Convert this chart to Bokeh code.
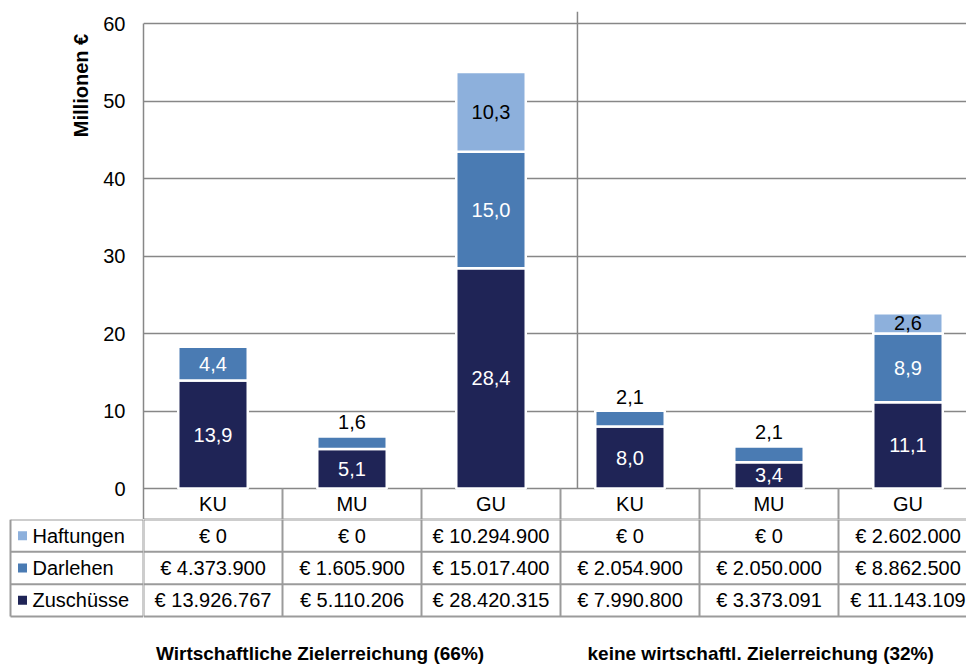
import math
from bokeh.plotting import figure
from bokeh.layouts import column, row
from bokeh.models import Range1d, FixedTicker, ColumnDataSource
from bokeh.core.properties import value
from bokeh.embed import file_html
from bokeh.resources import INLINE

# ---------------- data ----------------
categories = ["KU", "MU", "GU", "KU", "MU", "GU"]
group_titles = ["Wirtschaftliche Zielerreichung (66%)",
                "keine wirtschaftl. Zielerreichung (32%)"]
series_names = ["Haftungen", "Darlehen", "Zuschüsse"]
zuschuesse = [13926767, 5110206, 28420315, 7990800, 3373091, 11143109]
darlehen = [4373900, 1605900, 15017400, 2054900, 2050000, 8862500]
haftungen = [0, 0, 10294900, 0, 0, 2602000]
y_ticks = [0, 10, 20, 30, 40, 50, 60]
y_title = "Millionen €"

# ---------------- style ----------------
FONT = "Liberation Sans"
C_ZUS = "#1F2456"
C_DAR = "#4A7BB3"
C_HAF = "#8DB0DC"
series_colors = [C_HAF, C_DAR, C_ZUS]
GRID = "#878787"
TABLE = "#9B9B9B"
FS = "20px"

# ---------------- layout (px) ----------------
W = 966
H = 669
STRIP = 100          # strip holding the y title
AXIS_W = 43          # y-axis tick label area
FRAME_L = STRIP + AXIS_W
CAT_PX = 139.0
PX_PER_UNIT = 7.75
ZERO_Y = 488
TOP_Y = 11
A_H = 519
B_H = H - A_H
ROW_PX = 32.33

n = len(categories)
x_end = (W - FRAME_L) / CAT_PX
y_top = 60 + (ZERO_Y - 60 * PX_PER_UNIT - TOP_Y) / PX_PER_UNIT
y_bot = -(A_H - ZERO_Y) / PX_PER_UNIT


def mio(v):
    return v / 1e6


def fmt_mio(v):
    tenths = (v + 50000) // 100000          # round half up, like the spreadsheet
    return f"{tenths // 10},{tenths % 10}"


def fmt_eur(v):
    return "€ " + f"{v:,}".replace(",", ".")


xs = [i + 0.5 for i in range(n)]
z = [mio(v) for v in zuschuesse]
d = [mio(v) for v in darlehen]
h = [mio(v) for v in haftungen]


def bare(fig):
    fig.outline_line_color = None
    fig.background_fill_color = "white"
    fig.border_fill_color = "white"
    fig.grid.grid_line_color = None


# ================= y-title strip =================
pt = figure(width=STRIP, height=A_H, x_range=Range1d(0, STRIP), y_range=Range1d(y_bot, y_top),
            output_backend="svg", toolbar_location=None, x_axis_location=None, y_axis_location=None,
            min_border=0, title=None)
bare(pt)
pt.text(x=[80], y=[(ZERO_Y - 85) / PX_PER_UNIT], text=[y_title], angle=math.pi / 2,
        text_font=value(FONT), text_font_size=value("20px"), text_font_style="bold",
        text_align="center", text_baseline="middle", text_color="black")

# ================= chart figure =================
pa = figure(width=W - STRIP, height=A_H, x_range=Range1d(0, x_end), y_range=Range1d(y_bot, y_top),
            output_backend="svg", toolbar_location=None, x_axis_location=None,
            min_border_left=AXIS_W, min_border_right=0, min_border_top=TOP_Y, min_border_bottom=0,
            title=None)
bare(pa)
pa.ygrid.ticker = FixedTicker(ticks=y_ticks)
pa.ygrid.grid_line_color = GRID
pa.ygrid.grid_line_width = 1.5

ax = pa.yaxis[0]
ax.ticker = FixedTicker(ticks=y_ticks)
ax.bounds = (y_bot, 60)
ax.axis_line_color = GRID
ax.axis_line_width = 1.5
ax.major_tick_line_color = None
ax.minor_tick_line_color = None
ax.major_tick_in = 0
ax.major_tick_out = 0
ax.major_label_text_font = FONT
ax.major_label_text_font_size = FS
ax.major_label_text_color = "#000000"
ax.major_label_standoff = 18

# group separator
pa.segment(x0=[3 + 0.122], y0=[0], x1=[3 + 0.122], y1=[y_top], line_color=GRID, line_width=1.5)

# stacked bars
src_z = ColumnDataSource(dict(x=xs, bottom=[0] * n, top=z))
pa.vbar(x="x", bottom="bottom", top="top", width=0.5, source=src_z,
        fill_color=C_ZUS, line_color="white", line_width=2.5)
src_d = ColumnDataSource(dict(x=xs, bottom=z, top=[a + b for a, b in zip(z, d)]))
pa.vbar(x="x", bottom="bottom", top="top", width=0.5, source=src_d,
        fill_color=C_DAR, line_color="white", line_width=2.5)
hi = [i for i in range(n) if haftungen[i] > 0]
src_h = ColumnDataSource(dict(x=[xs[i] for i in hi], bottom=[z[i] + d[i] for i in hi],
                              top=[z[i] + d[i] + h[i] for i in hi]))
pa.vbar(x="x", bottom="bottom", top="top", width=0.5, source=src_h,
        fill_color=C_HAF, line_color="white", line_width=2.5)

# data labels
lab_x, lab_y, lab_t, lab_c = [], [], [], []
for i in range(n):
    lab_x.append(xs[i]); lab_y.append(z[i] / 2); lab_t.append(fmt_mio(zuschuesse[i])); lab_c.append("white")
    if d[i] >= 3:
        lab_x.append(xs[i]); lab_y.append(z[i] + d[i] / 2); lab_t.append(fmt_mio(darlehen[i])); lab_c.append("white")
    else:
        lab_x.append(xs[i]); lab_y.append(z[i] + d[i] + 14 / PX_PER_UNIT); lab_t.append(fmt_mio(darlehen[i])); lab_c.append("black")
    if haftungen[i] > 0:
        lab_x.append(xs[i]); lab_y.append(z[i] + d[i] + h[i] / 2); lab_t.append(fmt_mio(haftungen[i])); lab_c.append("black")
pa.text(x="x", y="y", text="t", text_color="c",
        source=ColumnDataSource(dict(x=lab_x, y=lab_y, t=lab_t, c=lab_c)),
        text_font=value(FONT), text_font_size=value(FS), text_align="center", text_baseline="middle")

# table header row (category names)
hdr_y = -15 / PX_PER_UNIT
pa.text(x=xs, y=[hdr_y] * n, text=categories, text_font=value(FONT), text_font_size=value(FS),
        text_align="center", text_baseline="middle", text_color="black")
pa.segment(x0=list(range(1, n + 1)), y0=[0] * n, x1=list(range(1, n + 1)), y1=[y_bot] * n,
           line_color=TABLE, line_width=2)
pa.segment(x0=[0], y0=[y_bot], x1=[n], y1=[y_bot], line_color=TABLE, line_width=2)

# ================= table figures =================
rows_h = B_H / ROW_PX
nrows = len(series_names)
row_vals = [haftungen, darlehen, zuschuesse]

pb = figure(width=W - FRAME_L, height=B_H, x_range=Range1d(0, x_end), y_range=Range1d(rows_h, 0),
            output_backend="svg", toolbar_location=None, x_axis_location=None, y_axis_location=None,
            min_border=0, title=None)
bare(pb)
pb.segment(x0=[0] * (nrows + 1), y0=list(range(nrows + 1)), x1=[n] * (nrows + 1), y1=list(range(nrows + 1)),
           line_color=TABLE, line_width=2)
pb.segment(x0=list(range(n + 1)), y0=[0] * (n + 1), x1=list(range(n + 1)), y1=[nrows] * (n + 1),
           line_color=TABLE, line_width=2)
tx, ty, tt = [], [], []
for r, vals in enumerate(row_vals):
    for i in range(n):
        tx.append(xs[i]); ty.append(r + 0.5); tt.append(fmt_eur(vals[i]))
pb.text(x=tx, y=ty, text=tt, text_font=value(FONT), text_font_size=value(FS),
        text_align="center", text_baseline="middle", text_color="black")
title_y = (653 - A_H) / ROW_PX
pb.text(x=[1.5 - 0.23, 4.5 - 0.06], y=[title_y] * 2, text=group_titles, text_font=value(FONT),
        text_font_size=value("19px"), text_font_style="bold", text_align="center",
        text_baseline="middle", text_color="black")

pl = figure(width=FRAME_L, height=B_H, x_range=Range1d(0, FRAME_L), y_range=Range1d(rows_h, 0),
            output_backend="svg", toolbar_location=None, x_axis_location=None, y_axis_location=None,
            min_border=0, title=None)
bare(pl)
pl.segment(x0=[10] * (nrows + 1), y0=list(range(nrows + 1)), x1=[FRAME_L] * (nrows + 1), y1=list(range(nrows + 1)),
           line_color=TABLE, line_width=2)
pl.segment(x0=[10, FRAME_L], y0=[0, 0], x1=[10, FRAME_L], y1=[nrows, nrows], line_color=TABLE, line_width=2)
ry = [r + 0.5 for r in range(nrows)]
pl.scatter(x=[22] * nrows, y=ry, marker="square", size=9, fill_color=series_colors, line_color=None)
pl.text(x=[32] * nrows, y=ry, text=series_names, text_font=value(FONT), text_font_size=value(FS),
        text_align="left", text_baseline="middle", text_color="black")

layout = column(row(pt, pa), row(pl, pb))
open("out.html", "w").write(file_html(layout, INLINE))
